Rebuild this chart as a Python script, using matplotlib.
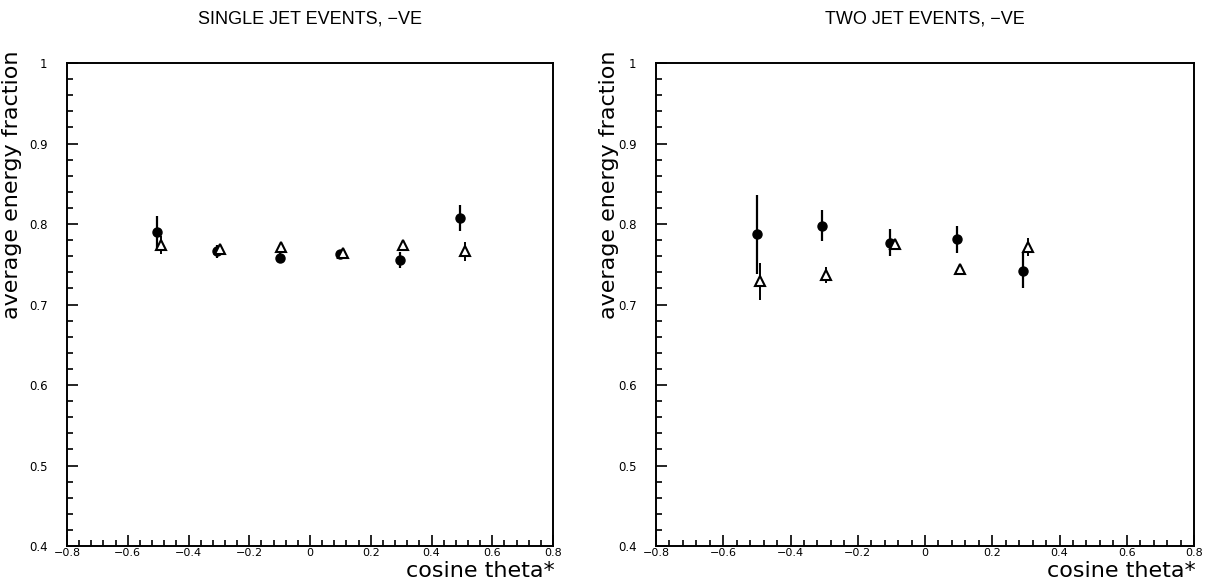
import matplotlib
matplotlib.use("Agg")
import matplotlib.pyplot as plt
from matplotlib.ticker import MultipleLocator, FixedLocator, FuncFormatter

# ---- data ----
titles = ["SINGLE JET EVENTS, \u2212VE", "TWO JET EVENTS, \u2212VE"]

# single jet: filled circles
s_circ_x = [-0.505, -0.305, -0.10, 0.10, 0.295, 0.495]
s_circ_y = [0.790, 0.766, 0.758, 0.763, 0.755, 0.807]
s_circ_e = [0.020, 0.008, 0.006, 0.005, 0.010, 0.016]
# single jet: open triangles
s_tri_x = [-0.49, -0.295, -0.095, 0.11, 0.305, 0.51]
s_tri_y = [0.774, 0.769, 0.772, 0.764, 0.774, 0.766]
s_tri_e = [0.011, 0.005, 0.005, 0.004, 0.005, 0.012]

# two jet: filled circles
t_circ_x = [-0.50, -0.305, -0.105, 0.095, 0.29]
t_circ_y = [0.787, 0.798, 0.777, 0.781, 0.742]
t_circ_e = [0.049, 0.019, 0.017, 0.017, 0.022]
# two jet: open triangles
t_tri_x = [-0.49, -0.295, -0.09, 0.105, 0.305]
t_tri_y = [0.729, 0.737, 0.775, 0.744, 0.771]
t_tri_e = [0.023, 0.010, 0.004, 0.003, 0.011]

x_ticks = [-0.8, -0.6, -0.4, -0.2, 0.0, 0.2, 0.4, 0.6, 0.8]
y_ticks = [0.4, 0.5, 0.6, 0.7, 0.8, 0.9, 1.0]

W, H = 1209, 581
fig = plt.figure(figsize=(W / 100, H / 100), dpi=100)

def fmt(v, pos):
    if abs(v) < 1e-9:
        return "0"
    if abs(v - 1.0) < 1e-9:
        return "1"
    s = f"{v:.1f}"
    return s.replace("-", "\u2212")

panels = [
    (67, 553, titles[0], s_circ_x, s_circ_y, s_circ_e, s_tri_x, s_tri_y, s_tri_e, 12),
    (656, 1194, titles[1], t_circ_x, t_circ_y, t_circ_e, t_tri_x, t_tri_y, t_tri_e, 609),
]
top_px, bot_px = 63, 546
for (l, r, title, cx, cy, ce, tx, ty, te, ylx) in panels:
    ax = fig.add_axes([l / W, 1 - bot_px / H, (r - l) / W, (bot_px - top_px) / H])
    ax.set_xlim(-0.8, 0.8)
    ax.set_ylim(0.4, 1.0)
    ax.errorbar(cx, cy, yerr=ce, fmt="o", color="black", ms=6.5, elinewidth=1.6,
                capsize=0, zorder=3)
    ax.errorbar(tx, ty, yerr=te, fmt="^", color="black", mfc="white", mec="black",
                mew=1.5, ms=7, elinewidth=1.4, capsize=0, zorder=4)
    ax.xaxis.set_major_locator(FixedLocator(x_ticks))
    ax.yaxis.set_major_locator(FixedLocator(y_ticks))
    ax.xaxis.set_minor_locator(MultipleLocator(0.04))
    ax.yaxis.set_minor_locator(MultipleLocator(0.02))
    ax.xaxis.set_major_formatter(FuncFormatter(fmt))
    ax.yaxis.set_major_formatter(FuncFormatter(fmt))
    ax.tick_params(which="both", direction="in", top=False, right=False,
                   labelsize=8.5, width=1.2, colors="black")
    ax.tick_params(which="major", length=8)
    ax.tick_params(which="minor", length=4)
    ax.tick_params(axis="y", pad=14)
    ax.tick_params(axis="x", pad=1.5, labelsize=8)
    for sp in ax.spines.values():
        sp.set_linewidth(1.4)
    fig.text((l + r) / 2 / W, 1 - 19 / H, title, ha="center", va="center",
             fontsize=13, family="Liberation Sans")
    fig.text(ylx / W, 1 - 185 / H, "average energy fraction", rotation=90,
             ha="center", va="center", fontsize=16)
    fig.text((r + 2) / W, 4 / H, "cosine theta*", ha="right", va="baseline",
             fontsize=16)

fig.savefig("out.png", dpi=100)
